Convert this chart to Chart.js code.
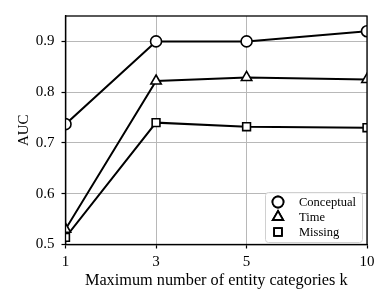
<!DOCTYPE html>
<html>
<head>
<meta charset="utf-8">
<script src="https://cdn.jsdelivr.net/npm/chart.js@4.4.1/dist/chart.umd.min.js"></script>
<style>
  html, body { margin: 0; padding: 0; background: #fff; }
  #wrap { width: 391px; height: 304px; }
</style>
</head>
<body>
<div id="wrap"><canvas id="aucChart" width="391" height="304"></canvas></div>
<script>
// tick labels for k and where they sit on the (uneven) x axis
const kLabels = ['1', '3', '5', '10'];
const kPositions = [0, 1, 2, 3.33];

// AUC per series
const conceptual = [0.737, 0.900, 0.900, 0.920];
const time = [0.530, 0.822, 0.829, 0.825];
const missing = [0.514, 0.740, 0.732, 0.730];

const yTicks = [0.5, 0.6, 0.7, 0.8, 0.9];

const serif = "'Liberation Serif', 'DejaVu Serif', serif";

const toPoints = (vals) => vals.map((v, i) => ({ x: kPositions[i], y: v }));

const series = [
  { label: 'Conceptual', data: conceptual, style: 'circle', radius: 5.5 },
  { label: 'Time', data: time, style: 'triangle', radius: 6 },
  { label: 'Missing', data: missing, style: 'rect', radius: 5.5 }
];

// frame + legend on top of the plot
const framePlugin = {
  id: 'frame',
  afterDatasetsDraw(chart) {
    const { ctx, chartArea: a } = chart;
    ctx.save();
    ctx.strokeStyle = '#000';
    ctx.lineWidth = 1.3;
    ctx.strokeRect(a.left, a.top, a.right - a.left, a.bottom - a.top);

    // legend
    const bx = 265, by = 192, bw = 97, bh = 50;
    ctx.fillStyle = 'rgba(255,255,255,0.85)';
    ctx.strokeStyle = '#d0d0d0';
    ctx.lineWidth = 1;
    ctx.beginPath();
    ctx.roundRect(bx + 0.5, by + 0.5, bw, bh, 3);
    ctx.fill();
    ctx.stroke();

    ctx.font = '12.5px ' + serif;
    ctx.textBaseline = 'middle';
    series.forEach((s, i) => {
      const y = by + 10 + i * 15;
      ctx.lineWidth = 1.8;
      ctx.strokeStyle = '#000';
      ctx.fillStyle = '#fff';
      Chart.helpers.drawPoint(ctx, { pointStyle: s.style, radius: s.radius, rotation: 0, borderWidth: 1.8 }, 278, y);
      ctx.fill();
      ctx.stroke();
      ctx.fillStyle = '#000';
      ctx.fillText(s.label, 299, y + 0.5);
    });
    ctx.restore();
  }
};

new Chart(document.getElementById('aucChart'), {
  type: 'line',
  data: {
    datasets: series.map(s => ({
      label: s.label,
      data: toPoints(s.data),
      borderColor: '#000',
      borderWidth: 2,
      pointStyle: s.style,
      pointRadius: s.radius,
      pointBackgroundColor: '#fff',
      pointBorderColor: '#000',
      pointBorderWidth: 1.6,
      tension: 0,
      clip: 0
    }))
  },
  options: {
    responsive: false,
    animation: false,
    layout: { padding: { top: 15, right: 24, left: 11, bottom: 9 } },
    plugins: { legend: { display: false }, tooltip: { enabled: false } },
    scales: {
      x: {
        type: 'linear',
        min: kPositions[0],
        max: kPositions[kPositions.length - 1],
        afterBuildTicks: (scale) => { scale.ticks = kPositions.map(v => ({ value: v })); },
        afterFit: (scale) => { scale.height = 50.5; },
        ticks: {
          callback: (v) => kLabels[kPositions.indexOf(v)],
          color: '#000',
          font: { family: serif, size: 15 },
          padding: 5,
          maxRotation: 0,
          autoSkip: false
        },
        grid: { color: '#b8b8b8', lineWidth: 1, tickLength: 4, tickColor: '#000', tickWidth: 1.2 },
        border: { color: '#000', width: 1.3 },
        title: {
          display: true,
          text: 'Maximum number of entity categories k',
          color: '#000',
          font: { family: serif, size: 16.3 },
          padding: { top: 2 }
        }
      },
      y: {
        min: 0.5,
        max: 0.95,
        afterBuildTicks: (scale) => { scale.ticks = yTicks.map(v => ({ value: v })); },
        afterFit: (scale) => { scale.width = 54.5; },
        ticks: {
          callback: (v) => v.toFixed(1),
          color: '#000',
          font: { family: serif, size: 15 },
          padding: 7
        },
        grid: { color: '#b8b8b8', lineWidth: 1, tickLength: 4, tickColor: '#000', tickWidth: 1.2 },
        border: { color: '#000', width: 1.3 },
        title: {
          display: true,
          text: 'AUC',
          color: '#000',
          font: { family: serif, size: 15 },
          padding: { bottom: 6 }
        }
      }
    }
  },
  plugins: [framePlugin]
});
</script>
</body>
</html>
